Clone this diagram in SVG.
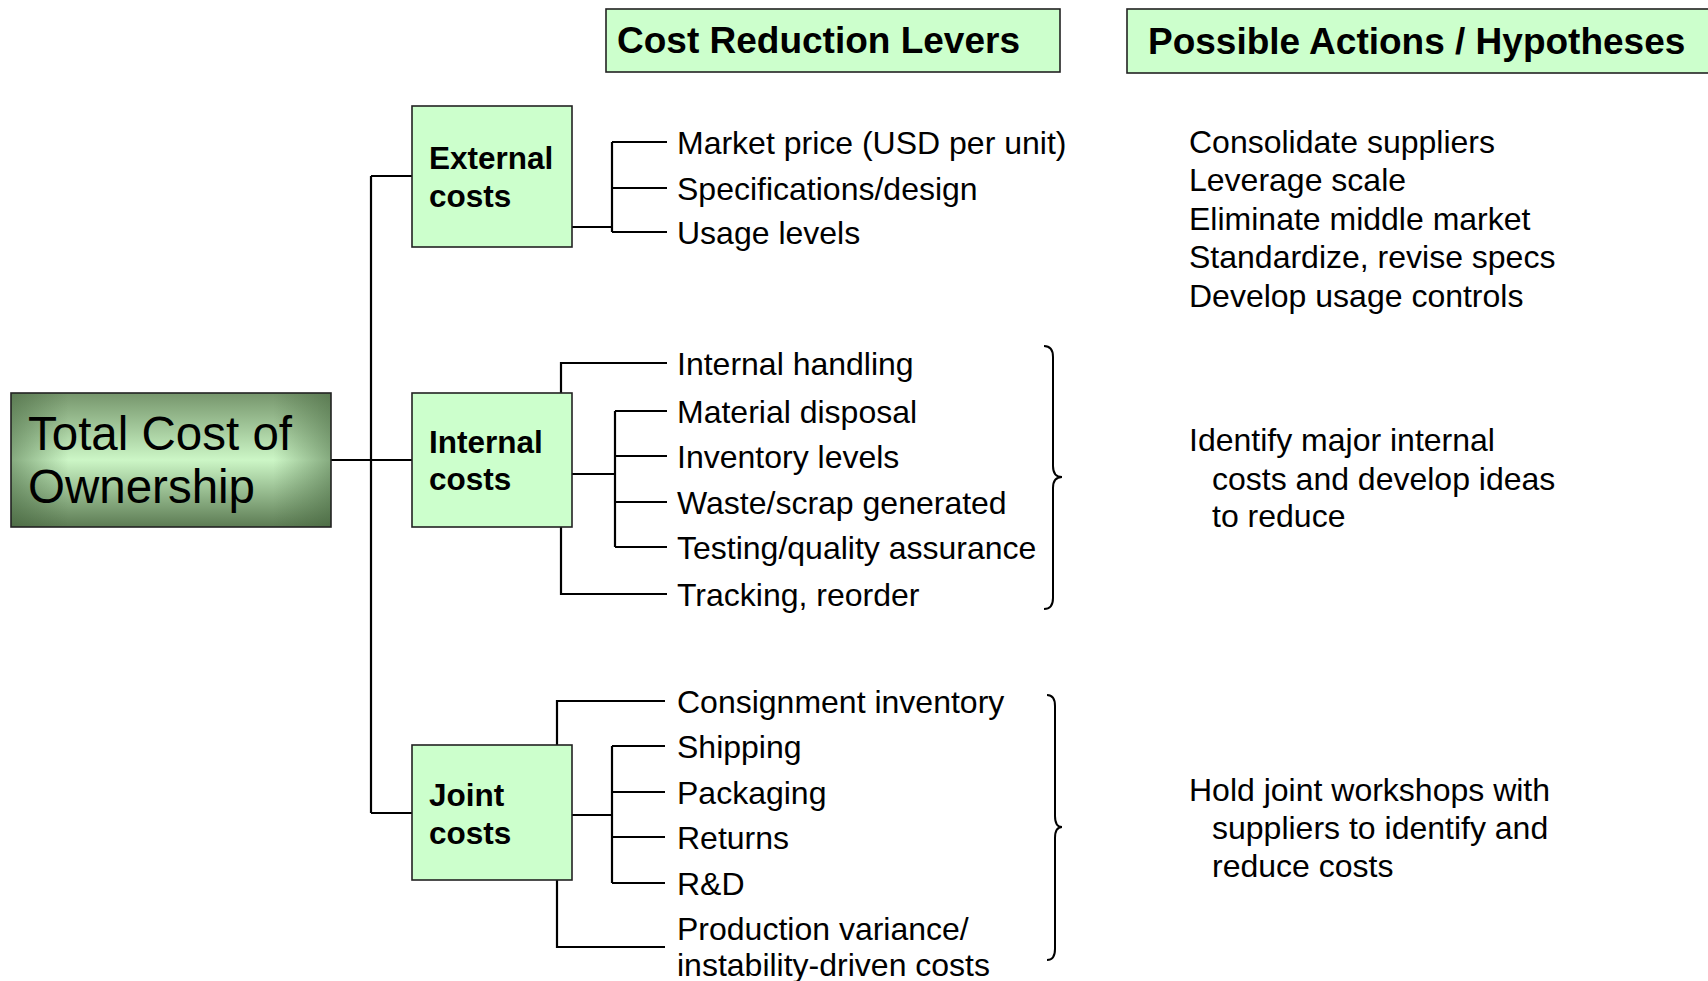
<svg xmlns="http://www.w3.org/2000/svg" width="1708" height="981" viewBox="0 0 1708 981">
<defs>
<style>
.box{fill:#ccffcc;stroke:#222;stroke-width:1.6}
.hdr{font-family:"Liberation Sans",Arial,sans-serif;font-weight:bold;font-size:37px;fill:#000}
.lbl{font-family:"Liberation Sans",Arial,sans-serif;font-weight:bold;font-size:31.5px;fill:#000}
.t{font-family:"Liberation Sans",Arial,sans-serif;font-size:32px;fill:#000}
.tco{font-family:"Liberation Sans",Arial,sans-serif;font-size:47.5px;fill:#000}
.ln{fill:none;stroke:#000;stroke-width:2.2}
.br{fill:none;stroke:#000;stroke-width:2}
</style>
<linearGradient id="gv" x1="0" y1="0" x2="0" y2="1">
<stop offset="0" stop-color="#76966c"/>
<stop offset="0.5" stop-color="#ccf6c6"/>
<stop offset="1" stop-color="#5c7b53"/>
</linearGradient>
<linearGradient id="gh" x1="0" y1="0" x2="1" y2="0">
<stop offset="0" stop-color="#3f5f38" stop-opacity="0.5"/>
<stop offset="0.18" stop-color="#3f5f38" stop-opacity="0"/>
<stop offset="0.82" stop-color="#3f5f38" stop-opacity="0"/>
<stop offset="1" stop-color="#3f5f38" stop-opacity="0.5"/>
</linearGradient>
</defs>
<rect width="1708" height="981" fill="#fff"/>

<g id="connectors">
<path class="ln" d="M331 460 H412 M371 176 V813 M371 176 H412 M371 813 H412"/>
<path class="ln" d="M572 227 H612 M612 142 V232 M612 142 H667 M612 188 H667 M612 232 H667"/>
<path class="ln" d="M561 393 V363 H667 M561 527 V594 H667 M572 474 H615 M615 411 V547 M615 411 H667 M615 456 H667 M615 502 H667 M615 547 H667"/>
<path class="ln" d="M557 745 V701 H665 M557 880 V947 H665 M572 815 H612 M612 746 V883 M612 746 H665 M612 792 H665 M612 837 H665 M612 883 H665"/>
</g>

<g id="header-levers">
<rect class="box" x="606" y="9" width="454" height="63"/>
<text class="hdr" x="617" y="53">Cost Reduction Levers</text>
</g>
<g id="header-actions">
<rect class="box" x="1127" y="9" width="600" height="64"/>
<text class="hdr" x="1148" y="54">Possible Actions / Hypotheses</text>
</g>

<g id="tco">
<rect x="11" y="393" width="320" height="134" fill="url(#gv)"/>
<rect x="11" y="393" width="320" height="134" fill="url(#gh)" stroke="#222" stroke-width="1.6"/>
<text class="tco" x="28" y="450">Total Cost of</text>
<text class="tco" x="28" y="503">Ownership</text>
</g>

<g id="external">
<rect class="box" x="412" y="106" width="160" height="141"/>
<text class="lbl" x="429" y="169">External</text>
<text class="lbl" x="429" y="207">costs</text>
</g>
<g id="internal">
<rect class="box" x="412" y="393" width="160" height="134"/>
<text class="lbl" x="429" y="453">Internal</text>
<text class="lbl" x="429" y="490">costs</text>
</g>
<g id="joint">
<rect class="box" x="412" y="745" width="160" height="135"/>
<text class="lbl" x="429" y="806">Joint</text>
<text class="lbl" x="429" y="844">costs</text>
</g>

<g id="external-levers">
<text class="t" x="677" y="154">Market price (USD per unit)</text>
<text class="t" x="677" y="200">Specifications/design</text>
<text class="t" x="677" y="244">Usage levels</text>
</g>
<g id="internal-levers">
<text class="t" x="677" y="375">Internal handling</text>
<text class="t" x="677" y="423">Material disposal</text>
<text class="t" x="677" y="468">Inventory levels</text>
<text class="t" x="677" y="514">Waste/scrap generated</text>
<text class="t" x="677" y="559">Testing/quality assurance</text>
<text class="t" x="677" y="606">Tracking, reorder</text>
</g>
<g id="joint-levers">
<text class="t" x="677" y="713">Consignment inventory</text>
<text class="t" x="677" y="758">Shipping</text>
<text class="t" x="677" y="804">Packaging</text>
<text class="t" x="677" y="849">Returns</text>
<text class="t" x="677" y="895">R&amp;D</text>
<text class="t" x="677" y="940">Production variance/</text>
<text class="t" x="677" y="976">instability-driven costs</text>
</g>

<g id="braces">
<path class="br" d="M1044 346 Q1053 346 1053 357 V466 Q1053 477 1062 477 Q1053 477 1053 488 V598 Q1053 609 1044 609"/>
<path class="br" d="M1047 695 Q1055 695 1055 706 V816 Q1055 827 1062 827 Q1055 827 1055 838 V949 Q1055 960 1047 960"/>
</g>

<g id="external-actions">
<text class="t" x="1189" y="153">Consolidate suppliers</text>
<text class="t" x="1189" y="191">Leverage scale</text>
<text class="t" x="1189" y="230">Eliminate middle market</text>
<text class="t" x="1189" y="268">Standardize, revise specs</text>
<text class="t" x="1189" y="307">Develop usage controls</text>
</g>
<g id="internal-actions">
<text class="t" x="1189" y="451">Identify major internal</text>
<text class="t" x="1212" y="490">costs and develop ideas</text>
<text class="t" x="1212" y="527">to reduce</text>
</g>
<g id="joint-actions">
<text class="t" x="1189" y="801">Hold joint workshops with</text>
<text class="t" x="1212" y="839">suppliers to identify and</text>
<text class="t" x="1212" y="877">reduce costs</text>
</g>
</svg>
